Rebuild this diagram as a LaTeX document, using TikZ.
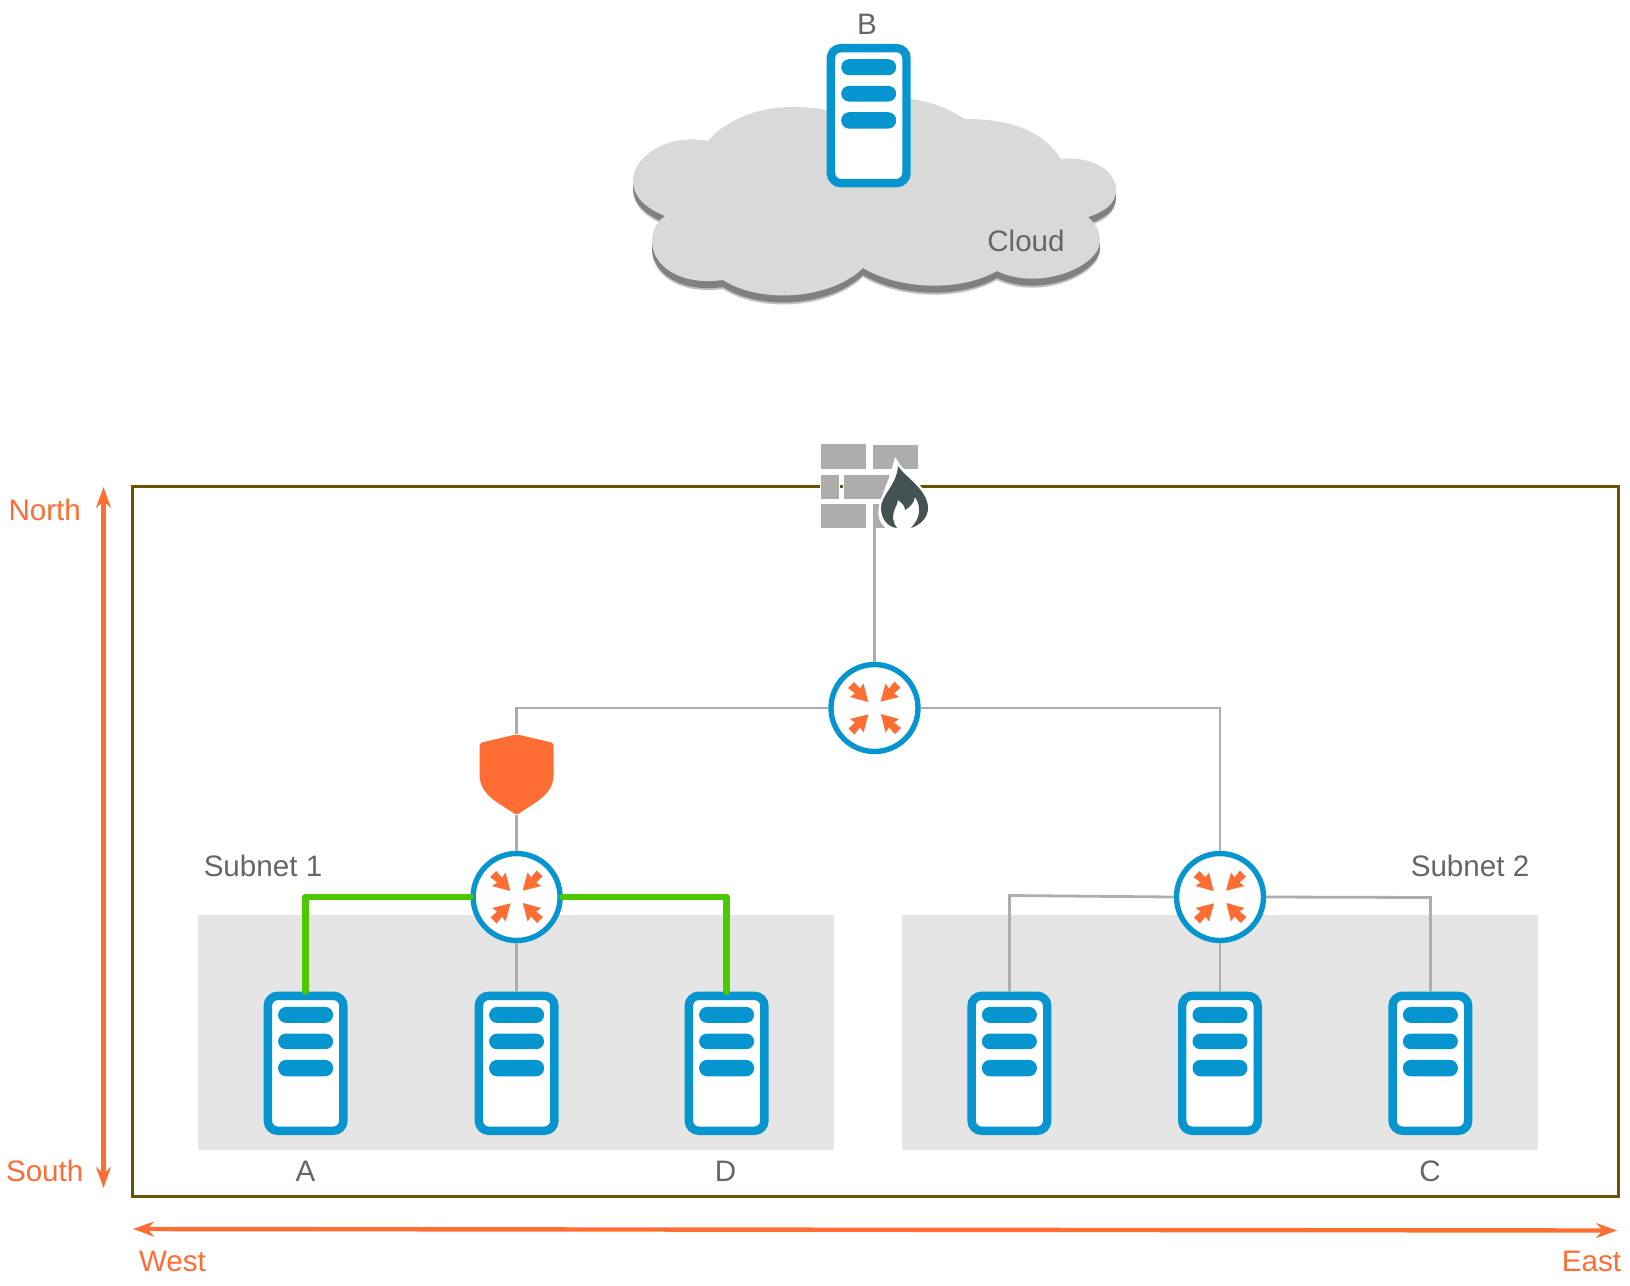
\documentclass[tikz,border=0pt]{standalone}
\usepackage{fontspec}
\setmainfont{Liberation Sans}
\usetikzlibrary{arrows.meta}

\definecolor{netblue}{HTML}{0795CF}
\definecolor{netorange}{HTML}{FE6D33}
\definecolor{netgreen}{HTML}{4BC800}
\definecolor{wiregray}{HTML}{ADADAD}
\definecolor{framebrown}{HTML}{6B5200}
\definecolor{flamedark}{HTML}{435252}

\tikzset{
  serverbox/.style={draw=netblue, fill=white, line width=4.2pt, rounded corners=5pt,
    minimum width=37.8pt, minimum height=67.5pt, inner sep=0pt},
  hub/.style={circle, draw=netblue, fill=white, line width=2.7pt,
    minimum size=43.5pt, inner sep=0pt},
  wire/.style={draw=wiregray, line width=1.4pt},
  greenwire/.style={draw=netgreen, line width=3.4pt, line join=round, line cap=round},
  direction/.style={draw=netorange, line width=2.2pt, {Stealth[length=10.5pt,width=7.5pt]}-{Stealth[length=10.5pt,width=7.5pt]}},
  darklabel/.style={text=black!60, font=\fontsize{14.8}{16}\selectfont, inner sep=0pt},
  orangelabel/.style={text=netorange, font=\fontsize{14.8}{16}\selectfont, inner sep=0pt},
  brick/.style={fill=wiregray, draw=white, line width=0.5pt}
}

\begin{document}
\begin{tikzpicture}[x=0.5pt, y=-0.5pt]

\def\cloudpath{(708,141) .. controls (728,118) and (760,107) .. (793,107)
  .. controls (806,107) and (818,108) .. (830,111) -- (868,111) -- (890,97)
  .. controls (932,99) and (950,110) .. (965,119)
  .. controls (1010,119) and (1042,130) .. (1061,159)
  .. controls (1095,156) and (1116,172) .. (1116,190)
  .. controls (1116,204) and (1104,212) .. (1088,217)
  .. controls (1096,224) and (1100,232) .. (1100,241)
  .. controls (1100,266) and (1040,292) .. (997,271)
  .. controls (960,292) and (900,290) .. (863,268)
  .. controls (830,300) and (760,304) .. (723,280)
  .. controls (680,286) and (652,266) .. (652,241)
  .. controls (652,230) and (657,222) .. (665,216)
  .. controls (645,208) and (633,196) .. (633,181)
  .. controls (633,155) and (670,133) .. (708,141) -- cycle}

\def\serverbars#1{
  \begin{scope}[shift={(#1.north)}]
    \fill[netblue, rounded corners=4pt] (-27.5,15.3) rectangle (27.5,31.3);
    \fill[netblue, rounded corners=3.9pt] (-27.5,42) rectangle (27.5,57.6);
    \fill[netblue, rounded corners=4pt] (-27.5,68.3) rectangle (27.5,84.7);
  \end{scope}
}

\def\hubarrows#1{
  \foreach \ang in {0,90,180,270} {
    \fill[netorange, shift={(#1.center)}, rotate=\ang] (-6.3,-6) -- (-11,-24.5) -- (-14.5,-19.5)
      -- (-20.5,-26) -- (-26.5,-20) -- (-19.5,-14.5) -- (-24.5,-11) -- cycle;
  }
}

\useasboundingbox (0,0) rectangle (1630,1286);

% subnet backgrounds and outer frame
\fill[black!10] (197.5,915) rectangle (833.7,1150);
\fill[black!10] (901.5,915) rectangle (1538,1150);
\draw[framebrown, line width=1.5pt] (132,486) rectangle (1618,1196);

% cloud
\fill[black!50, opacity=0.5] [yshift=-4.5pt] \cloudpath;
\fill[black!50] [yshift=-3.5pt] \cloudpath;
\fill[black!15] \cloudpath;

% firewall
\fill[brick] (820.5,443.5) rectangle (866.5,469.5);
\fill[brick] (872.5,444.5) rectangle (918,469.5);
\fill[brick] (820.5,474.5) rectangle (839,499.5);
\fill[brick] (843.5,474.5) rectangle (905,499.5);
\fill[brick] (820.5,503.5) rectangle (866.5,528.5);
\fill[brick] (872.5,503.5) rectangle (895,528.5);
\filldraw[draw=white, fill=white, line width=2.5pt, miter limit=10]
  (896,463) .. controls (905,477) and (928,490) .. (928,508)
  .. controls (928,518) and (920,525) .. (911,528) -- (887,526)
  .. controls (872,512) and (888,495) .. (896,463) -- cycle;
\fill[flamedark] (898,466) .. controls (905,477) and (928,490) .. (928,508)
  .. controls (928,518) and (920,525) .. (911,528)
  .. controls (920,518) and (922,508) .. (915,497)
  .. controls (914,503) and (910,507) .. (905,510)
  .. controls (905,506) and (902,503) .. (898,500)
  .. controls (897,508) and (888,515) .. (897,528)
  .. controls (887,527) and (881,518) .. (881,508)
  .. controls (881,495) and (897,485) .. (898,466) -- cycle;
\coordinate (firewall) at (874.5,528);

% routers, shield and servers
\node[hub] (corehub) at (874.5,708) {};
\node[hub] (lefthub) at (516.6,897) {};
\node[hub] (righthub) at (1220,897) {};
\node[inner sep=0pt, minimum width=37pt, minimum height=40.5pt] (shield) at (516.6,774.5) {};

\node[serverbox] (serverb) at (868.7,115.6) {};
\node[serverbox] (servera) at (305.6,1063.3) {};
\node[serverbox] (servermid) at (516.6,1063.3) {};
\node[serverbox] (serverd) at (726.6,1063.3) {};
\node[serverbox] (serverw) at (1009.4,1063.3) {};
\node[serverbox] (serverm) at (1220,1063.3) {};
\node[serverbox] (serverc) at (1430.4,1063.3) {};

\serverbars{serverb}
\serverbars{servera}
\serverbars{servermid}
\serverbars{serverd}
\serverbars{serverw}
\serverbars{serverm}
\serverbars{serverc}

% links
\coordinate (rightbendw) at (1009.4,895.5);
\coordinate (rightbende) at (1430.4,897.5);
\draw[wire] (firewall) -- (corehub.north);
\draw[wire] (corehub.west) -| (shield.north);
\draw[wire] (corehub.east) -| (righthub.north);
\draw[wire] (shield.south) -- (lefthub.north);
\draw[wire] (lefthub.south) -- (servermid.north);
\draw[wire] (righthub.west) -- (rightbendw) -- (serverw.north);
\draw[wire] (righthub.east) -- (rightbende) -- (serverc.north);
\draw[wire] (righthub.south) -- (serverm.north);
\draw[greenwire] (lefthub.west) -| (servera.north);
\draw[greenwire] (lefthub.east) -| (serverd.north);

% shield shape and router arrows go over the links
\fill[netorange, rounded corners=1pt] (479.6,743) -- (516.6,734.3) -- (553.6,743) -- (553.6,773)
  .. controls (553.6,788) and (545,796) .. (535,803) -- (516.6,815) -- (498,803)
  .. controls (488,796) and (479.6,788) .. (479.6,773) -- cycle;
\hubarrows{corehub}
\hubarrows{lefthub}
\hubarrows{righthub}

% directions
\coordinate (northend) at (103.5,487);
\coordinate (southend) at (103.5,1188);
\coordinate (westend) at (133,1229);
\coordinate (eastend) at (1617,1230.5);
\draw[direction] (northend) -- (southend);
\draw[direction] (westend) -- (eastend);

% labels
\node[darklabel] (labelb) at (867,24) {B};
\node[darklabel] (labelcloud) at (1026,241) {Cloud};
\node[darklabel] (labelsub1) at (263,866) {Subnet 1};
\node[darklabel] (labelsub2) at (1470,866) {Subnet 2};
\node[darklabel] (labela) at (305.6,1171.5) {A};
\node[darklabel] (labeld) at (725.6,1171.5) {D};
\node[darklabel] (labelc) at (1430,1171.5) {C};
\node[orangelabel] (labelnorth) at (44.7,510) {North};
\node[orangelabel] (labelsouth) at (44.7,1171) {South};
\node[orangelabel] (labelwest) at (172.5,1261.5) {West};
\node[orangelabel] (labeleast) at (1591.5,1261.5) {East};

\end{tikzpicture}
\end{document}
